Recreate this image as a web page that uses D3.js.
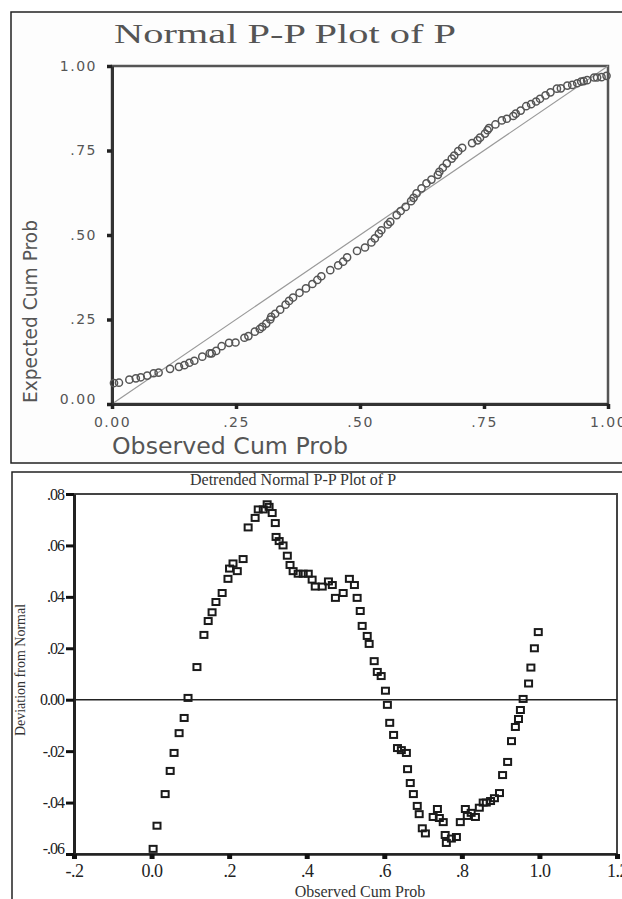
<!DOCTYPE html>
<html>
<head>
<meta charset="utf-8">
<script src="https://cdn.jsdelivr.net/npm/d3@7"></script>
<style>
  body { margin: 0; background: #fff; }
  svg { display: block; }
</style>
</head>
<body>
<div id="chart"></div>
<script>
// Observed cum prob of each case (x of both plots)
var observedCum = [0.004, 0.014, 0.035, 0.048, 0.058, 0.071, 0.084, 0.094, 0.117, 0.135,
  0.146, 0.156, 0.166, 0.182, 0.197, 0.201, 0.210, 0.221, 0.236, 0.249,
  0.267, 0.275, 0.288, 0.298, 0.303, 0.311, 0.319, 0.321, 0.329, 0.339,
  0.350, 0.357, 0.365, 0.378, 0.391, 0.404, 0.414, 0.422, 0.440, 0.456,
  0.466, 0.474, 0.494, 0.510, 0.523, 0.530, 0.538, 0.543, 0.556, 0.561,
  0.574, 0.582, 0.592, 0.603, 0.608, 0.614, 0.624, 0.634, 0.644, 0.657,
  0.660, 0.667, 0.675, 0.685, 0.690, 0.698, 0.706, 0.726, 0.737, 0.742,
  0.752, 0.757, 0.760, 0.773, 0.786, 0.796, 0.809, 0.814, 0.824, 0.835,
  0.845, 0.855, 0.863, 0.874, 0.884, 0.897, 0.905, 0.918, 0.928, 0.938,
  0.946, 0.951, 0.958, 0.972, 0.978, 0.987, 0.997];

// Expected cum prob (top plot, y)
var expectedCum = [0.062, 0.063, 0.072, 0.076, 0.079, 0.084, 0.091, 0.093, 0.104, 0.110,
  0.115, 0.122, 0.128, 0.140, 0.150, 0.150, 0.157, 0.171, 0.181, 0.182,
  0.196, 0.201, 0.214, 0.222, 0.228, 0.238, 0.250, 0.258, 0.267, 0.279,
  0.294, 0.305, 0.315, 0.329, 0.342, 0.355, 0.367, 0.378, 0.396, 0.410,
  0.421, 0.434, 0.453, 0.463, 0.478, 0.490, 0.504, 0.514, 0.531, 0.539,
  0.559, 0.571, 0.583, 0.600, 0.610, 0.623, 0.638, 0.653, 0.664, 0.678,
  0.687, 0.699, 0.712, 0.726, 0.735, 0.748, 0.758, 0.772, 0.780, 0.788,
  0.800, 0.810, 0.816, 0.827, 0.839, 0.844, 0.852, 0.859, 0.868, 0.881,
  0.887, 0.895, 0.903, 0.913, 0.922, 0.933, 0.934, 0.942, 0.944, 0.949,
  0.954, 0.955, 0.958, 0.966, 0.966, 0.967, 0.971];

// Deviation from normal (bottom plot, y)
var deviation = [-0.058, -0.049, -0.0367, -0.0277, -0.0207, -0.013, -0.0071, 0.0007, 0.0127, 0.0252,
  0.0306, 0.034, 0.038, 0.0415, 0.047, 0.051, 0.053, 0.050, 0.0547, 0.067,
  0.0707, 0.074, 0.074, 0.076, 0.075, 0.0726, 0.0687, 0.0633, 0.0617, 0.060,
  0.056, 0.0524, 0.050, 0.049, 0.049, 0.049, 0.0467, 0.044, 0.044, 0.046,
  0.0446, 0.0396, 0.0415, 0.047, 0.0446, 0.0396, 0.0345, 0.0287, 0.0248, 0.0217,
  0.015, 0.0108, 0.0092, 0.0035, -0.002, -0.009, -0.0137, -0.0188, -0.0196, -0.0207,
  -0.027, -0.0324, -0.0367, -0.0413, -0.0445, -0.050, -0.052, -0.0456, -0.0425, -0.046,
  -0.0476, -0.0526, -0.0557, -0.054, -0.0534, -0.0476, -0.0425, -0.0452, -0.044, -0.0456,
  -0.042, -0.040, -0.040, -0.0394, -0.0383, -0.0363, -0.0293, -0.0242, -0.0161, -0.0106,
  -0.0075, -0.004, 0.0003, 0.0063, 0.0125, 0.020, 0.0263];

// tick values / labels
var ppTicks = [0, 0.25, 0.5, 0.75, 1];
var ppTickLabels = ["0.00", ".25", ".50", ".75", "1.00"];
var detXTicks = [-0.2, 0, 0.2, 0.4, 0.6, 0.8, 1.0, 1.2];
var detXTickLabels = ["-.2", "0.0", ".2", ".4", ".6", ".8", "1.0", "1.2"];
var detYTicks = [0.08, 0.06, 0.04, 0.02, 0, -0.02, -0.04, -0.06];
var detYTickLabels = [".08", ".06", ".04", ".02", "0.00", "-.02", "-.04", "-.06"];

var svgWidth = 622;
var svgHeight = 899;

var svg = d3.select("#chart")
  .append("svg")
  .attr("width", svgWidth)
  .attr("height", svgHeight);

var sans = "'DejaVu Sans', Verdana, sans-serif";
var serif = "'Liberation Serif', 'Times New Roman', serif";

// ==============================
// Top: Normal P-P plot
// ==============================
svg.append("rect")
  .attr("x", 11).attr("y", 12)
  .attr("width", 700).attr("height", 451)
  .attr("fill", "#fdfdfd")
  .attr("stroke", "#222")
  .attr("stroke-width", 1.5);

var ppX = d3.scaleLinear().domain([0, 1]).range([112, 608]);
var ppY = d3.scaleLinear().domain([0, 1]).range([404, 66]);

svg.append("text")
  .attr("x", 285).attr("y", 43)
  .attr("text-anchor", "middle")
  .attr("textLength", 342)
  .attr("lengthAdjust", "spacingAndGlyphs")
  .style("font-family", serif)
  .style("font-size", "28px")
  .style("fill", "#555")
  .text("Normal P-P Plot of P");

// frame (top + right)
svg.append("rect")
  .attr("x", ppX(0)).attr("y", ppY(1))
  .attr("width", ppX(1) - ppX(0))
  .attr("height", ppY(0) - ppY(1))
  .attr("fill", "none")
  .attr("stroke", "#555")
  .attr("stroke-width", 2.5);

// reference diagonal
svg.append("line")
  .attr("x1", ppX(0)).attr("y1", ppY(0))
  .attr("x2", ppX(1)).attr("y2", ppY(1))
  .attr("stroke", "#999")
  .attr("stroke-width", 1.2);

var ppXAxis = d3.axisBottom(ppX)
  .tickValues(ppTicks)
  .tickFormat(function(d, i) { return ppTickLabels[i]; })
  .tickSize(5).tickSizeOuter(0).tickPadding(8);

var ppYAxis = d3.axisLeft(ppY)
  .tickValues(ppTicks)
  .tickFormat(function(d, i) { return ppTickLabels[i]; })
  .tickSize(5).tickSizeOuter(0).tickPadding(10);

var gx1 = svg.append("g")
  .attr("transform", "translate(0," + ppY(0) + ")")
  .call(ppXAxis);
var gy1 = svg.append("g")
  .attr("transform", "translate(" + ppX(0) + ",0)")
  .call(ppYAxis);

[gx1, gy1].forEach(function(g) {
  g.select(".domain").attr("stroke", "#333").attr("stroke-width", 3);
  g.selectAll(".tick line").attr("stroke", "#222").attr("stroke-width", 3.5);
  g.selectAll(".tick text")
    .style("font-family", sans)
    .style("font-size", "14px")
    .style("letter-spacing", "1.5px")
    .style("fill", "#555");
});
gy1.selectAll(".tick text").filter(function(d) { return d === 0; }).attr("y", -5);

// points
svg.append("g")
  .selectAll("circle")
  .data(observedCum)
  .enter()
  .append("circle")
  .attr("cx", function(d) { return ppX(d); })
  .attr("cy", function(d, i) { return ppY(expectedCum[i]); })
  .attr("r", 3.6)
  .attr("fill", "none")
  .attr("stroke", "#555")
  .attr("stroke-width", 1.5);

svg.append("text")
  .attr("transform", "translate(37,403) rotate(-90)")
  .attr("textLength", 183)
  .attr("lengthAdjust", "spacingAndGlyphs")
  .style("font-family", sans)
  .style("font-size", "20px")
  .style("fill", "#555")
  .text("Expected Cum Prob");

svg.append("text")
  .attr("x", 112).attr("y", 454)
  .attr("textLength", 236)
  .attr("lengthAdjust", "spacingAndGlyphs")
  .style("font-family", sans)
  .style("font-size", "23px")
  .style("fill", "#555")
  .text("Observed Cum Prob");

// ==============================
// Bottom: Detrended Normal P-P plot
// ==============================
svg.append("rect")
  .attr("x", 12).attr("y", 472)
  .attr("width", 700).attr("height", 500)
  .attr("fill", "#fff")
  .attr("stroke", "#222")
  .attr("stroke-width", 1.5);

var detX = d3.scaleLinear().domain([-0.2, 1.2]).range([74, 617]);
var detY = d3.scaleLinear().domain([-0.06, 0.08]).range([854, 494]);

svg.append("text")
  .attr("x", 293).attr("y", 485)
  .attr("text-anchor", "middle")
  .style("font-family", serif)
  .style("font-size", "16px")
  .style("fill", "#333")
  .text("Detrended Normal P-P Plot of P");

svg.append("rect")
  .attr("x", detX(-0.2)).attr("y", detY(0.08))
  .attr("width", detX(1.2) - detX(-0.2))
  .attr("height", detY(-0.06) - detY(0.08))
  .attr("fill", "none")
  .attr("stroke", "#444")
  .attr("stroke-width", 2);

// zero line
svg.append("line")
  .attr("x1", detX(-0.2)).attr("x2", detX(1.2))
  .attr("y1", detY(0)).attr("y2", detY(0))
  .attr("stroke", "#222")
  .attr("stroke-width", 1.5);

var detXAxis = d3.axisBottom(detX)
  .tickValues(detXTicks)
  .tickFormat(function(d, i) { return detXTickLabels[i]; })
  .tickSize(5).tickSizeOuter(0).tickPadding(5);

var detYAxis = d3.axisLeft(detY)
  .tickValues(detYTicks)
  .tickFormat(function(d, i) { return detYTickLabels[i]; })
  .tickSize(8).tickSizeOuter(0).tickPadding(2);

var gx2 = svg.append("g")
  .attr("transform", "translate(0," + detY(-0.06) + ")")
  .call(detXAxis);
var gy2 = svg.append("g")
  .attr("transform", "translate(" + detX(-0.2) + ",0)")
  .call(detYAxis);

gx2.select(".domain").attr("stroke", "#222").attr("stroke-width", 2.5);
gy2.select(".domain").attr("stroke", "#222").attr("stroke-width", 3);
gx2.selectAll(".tick line").attr("stroke", "#111").attr("stroke-width", 5);
gy2.selectAll(".tick line").attr("stroke", "#111").attr("stroke-width", 3);
gx2.selectAll(".tick text")
  .style("font-family", serif)
  .style("font-size", "18px")
  .style("letter-spacing", "-0.5px")
  .style("fill", "#222");
gy2.selectAll(".tick text")
  .style("font-family", serif)
  .style("font-size", "16px")
  .style("letter-spacing", "-1px")
  .style("fill", "#222");
gy2.selectAll(".tick text").filter(function(d) { return d === -0.06; }).attr("y", -6);

svg.append("g")
  .selectAll("rect")
  .data(observedCum)
  .enter()
  .append("rect")
  .attr("x", function(d) { return detX(d) - 3.5; })
  .attr("y", function(d, i) { return detY(deviation[i]) - 3; })
  .attr("width", 7)
  .attr("height", 6)
  .attr("fill", "none")
  .attr("stroke", "#1a1a1a")
  .attr("stroke-width", 2);

svg.append("text")
  .attr("transform", "translate(25,670) rotate(-90)")
  .attr("text-anchor", "middle")
  .style("font-family", serif)
  .style("font-size", "14px")
  .style("fill", "#333")
  .text("Deviation from Normal");

svg.append("text")
  .attr("x", 360).attr("y", 897)
  .attr("text-anchor", "middle")
  .style("font-family", serif)
  .style("font-size", "16px")
  .style("fill", "#333")
  .text("Observed Cum Prob");
</script>
</body>
</html>
